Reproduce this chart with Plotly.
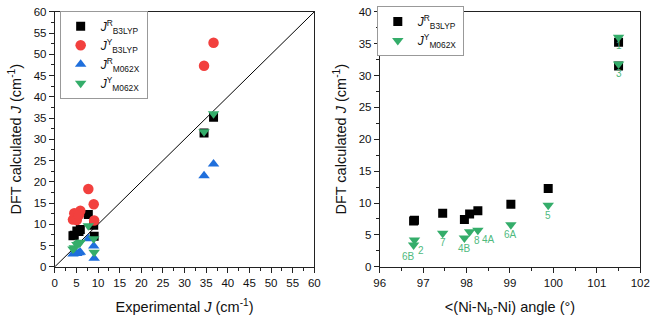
import plotly.graph_objects as go

# ---------------- data ----------------
compounds = ["1", "2", "3", "4A", "4B", "5", "6A", "6B", "7", "8"]
exp_J = [36.7, 4.2, 34.5, 5.9, 4.5, 7.75, 9.0, 9.1, 5.1, 5.6]
angle = [101.5, 96.8, 101.5, 98.26, 97.95, 99.88, 99.02, 96.78, 97.45, 98.07]
J_R_B3LYP = [35.2, 7.3, 31.5, 8.8, 7.4, 12.3, 9.8, 7.2, 8.4, 8.3]
J_Y_B3LYP = [52.7, 11.1, 47.3, 13.2, 12.6, 18.3, 14.7, 10.9, 11.0, 12.2]
J_R_M062X = [24.2, 3.0, 21.4, 3.4, 3.2, 6.6, 4.9, 2.0, 3.1, 3.3]
J_Y_M062X = [36.0, 4.2, 31.8, 5.75, 4.5, 9.65, 6.6, 3.4, 5.25, 5.5]

left_x_ticks = list(range(0, 61, 5))
left_y_ticks = list(range(0, 61, 5))
right_x_ticks = list(range(96, 103))
right_y_ticks = list(range(0, 41, 5))
diag = [0, 60]

# label offsets (px) for the right plot annotations
label_shift = {"1": (0, -8), "2": (7, -10), "3": (0, -9), "4A": (11, -9), "4B": (0, -10),
               "5": (0, -10), "6A": (0, -10), "6B": (-5, -11), "7": (0, -9), "8": (7, -9)}

BLACK = "#000000"
RED = "#f2403e"
BLUE = "#1f6fdc"
GREEN = "#34ad6a"
LABEL_GREEN = "#4fba7e"
FONT = "Liberation Sans, Arial, sans-serif"

names = {
    "rb": "<i>J</i><sup>R</sup><sub>B3LYP</sub>",
    "yb": "<i>J</i><sup>Y</sup><sub>B3LYP</sub>",
    "rm": "<i>J</i><sup>R</sup><sub>M062X</sub>",
    "ym": "<i>J</i><sup>Y</sup><sub>M062X</sub>",
}

fig = go.Figure()

# diagonal reference line
fig.add_trace(go.Scatter(x=diag, y=diag, mode="lines", line=dict(color="black", width=1),
                         showlegend=False, hoverinfo="skip", xaxis="x", yaxis="y"))

# left plot
fig.add_trace(go.Scatter(x=exp_J, y=J_R_B3LYP, mode="markers", name=names["rb"],
                         marker=dict(symbol="square", size=9, color=BLACK), xaxis="x", yaxis="y", legend="legend"))
fig.add_trace(go.Scatter(x=exp_J, y=J_Y_B3LYP, mode="markers", name=names["yb"],
                         marker=dict(symbol="circle", size=10.5, color=RED), xaxis="x", yaxis="y", legend="legend"))
fig.add_trace(go.Scatter(x=exp_J, y=J_R_M062X, mode="markers", name=names["rm"],
                         marker=dict(symbol="triangle-up", size=10, color=BLUE), xaxis="x", yaxis="y", legend="legend"))
fig.add_trace(go.Scatter(x=exp_J, y=J_Y_M062X, mode="markers", name=names["ym"],
                         marker=dict(symbol="triangle-down", size=10, color=GREEN), xaxis="x", yaxis="y", legend="legend"))

# right plot
fig.add_trace(go.Scatter(x=angle, y=J_R_B3LYP, mode="markers", name=names["rb"],
                         marker=dict(symbol="square", size=9, color=BLACK), xaxis="x2", yaxis="y2", legend="legend2"))
fig.add_trace(go.Scatter(x=angle, y=J_Y_M062X, mode="markers", name=names["ym"],
                         marker=dict(symbol="triangle-down", size=10, color=GREEN), xaxis="x2", yaxis="y2", legend="legend2"))

annotations = []
for c, a, j in zip(compounds, angle, J_Y_M062X):
    dx, dy = label_shift[c]
    annotations.append(dict(x=a, y=j, xref="x2", yref="y2", text=c, showarrow=False,
                            xshift=dx, yshift=dy, font=dict(size=10, color=LABEL_GREEN, family=FONT)))

axis_common = dict(showline=True, linecolor="#222", linewidth=1, mirror=True, ticks="outside",
                   ticklen=5, tickcolor="#222", showgrid=False, zeroline=False,
                   ticklabeloverflow="allow",
                   tickfont=dict(size=11.5, color="#111", family=FONT))

title_font = dict(size=14.5, family=FONT, color="#111")

fig.update_layout(
    width=661, height=319, margin=dict(l=0, r=0, t=0, b=0),
    plot_bgcolor="white", paper_bgcolor="white",
    font=dict(family=FONT, color="#111"),
    xaxis=dict(domain=[50 / 661, 316 / 661], range=[0, 60], tickvals=left_x_ticks,
               minor=dict(dtick=2.5, ticks="outside", ticklen=3, tickcolor="#222"),
               title=dict(text="Experimental <i>J</i> (cm<sup>-1</sup>)", font=title_font, standoff=14),
               anchor="y", **axis_common),
    yaxis=dict(domain=[1 - 271 / 319, 1 - 6 / 319], range=[0, 60], tickvals=left_y_ticks,
               minor=dict(dtick=2.5, ticks="outside", ticklen=3, tickcolor="#222"),
               title=dict(text="DFT calculated <i>J</i> (cm<sup>-1</sup>)", font=title_font, standoff=8),
               anchor="x", **axis_common),
    xaxis2=dict(domain=[383 / 661, 650 / 661], range=[96, 102], tickvals=right_x_ticks,
                minor=dict(dtick=0.5, ticks="outside", ticklen=3, tickcolor="#222"),
                title=dict(text="<(Ni-N<sub>b</sub>-Ni) angle (°)", font=title_font, standoff=14),
                anchor="y2", **axis_common),
    yaxis2=dict(domain=[1 - 271 / 319, 1 - 6 / 319], range=[0, 40], tickvals=right_y_ticks,
                minor=dict(dtick=2.5, ticks="outside", ticklen=3, tickcolor="#222"),
                title=dict(text="DFT calculated <i>J</i> (cm<sup>-1</sup>)", font=title_font, standoff=8),
                anchor="x2", **axis_common),
    legend=dict(x=55 / 661, y=1 - 5 / 319, xanchor="left", yanchor="top",
                bordercolor="#999", borderwidth=1, bgcolor="white",
                font=dict(size=12, family=FONT), itemwidth=30, tracegroupgap=0),
    legend2=dict(x=380 / 661, y=1.0, xanchor="left", yanchor="top",
                 bordercolor="#999", borderwidth=1, bgcolor="white",
                 font=dict(size=12, family=FONT), itemwidth=30, tracegroupgap=0),
    annotations=annotations,
    showlegend=True,
)

fig.write_html("out.html", config={"displayModeBar": False},
               post_script="document.body.style.margin='0px';document.body.style.overflow='hidden';")
